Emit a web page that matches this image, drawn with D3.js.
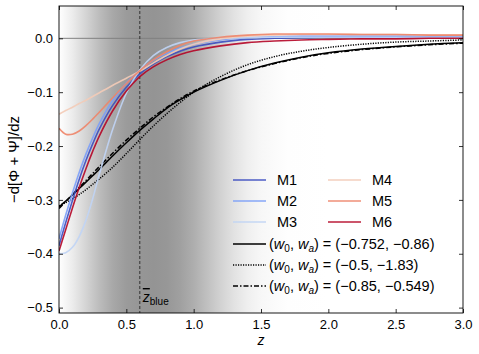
<!DOCTYPE html>
<html>
<head>
<meta charset="utf-8">
<script src="https://cdn.jsdelivr.net/npm/d3@7"></script>
<style>
  body { margin: 0; background: #fff; }
  text { font-family: "Liberation Sans", Arial, sans-serif; }
</style>
</head>
<body>
<div id="chart"></div>
<script>
// redshift grid shared by all curves
const zGrid = [0, 0.05, 0.1, 0.15, 0.2, 0.25, 0.3, 0.4, 0.5, 0.6, 0.7, 0.8, 0.9, 1.0, 1.2, 1.4, 1.6, 1.8, 2.0, 2.25, 2.5, 2.75, 3.0];

const m1 = [-0.385, -0.342, -0.301, -0.262, -0.227, -0.196, -0.168, -0.124, -0.091, -0.066, -0.048, -0.034, -0.024, -0.016, -0.007, -0.002, 0.000, 0.001, 0.002, 0.002, 0.003, 0.003, 0.003];
const m2 = [-0.372, -0.328, -0.287, -0.249, -0.215, -0.185, -0.158, -0.115, -0.083, -0.059, -0.041, -0.028, -0.018, -0.011, -0.003, 0.001, 0.003, 0.004, 0.004, 0.004, 0.004, 0.004, 0.004];
const m3 = [-0.400, -0.398, -0.388, -0.368, -0.338, -0.298, -0.252, -0.168, -0.102, -0.059, -0.032, -0.017, -0.008, -0.003, 0.000, 0.001, 0.002, 0.002, 0.002, 0.002, 0.002, 0.002, 0.002];
const m4 = [-0.141, -0.134, -0.128, -0.121, -0.115, -0.108, -0.101, -0.087, -0.074, -0.061, -0.046, -0.032, -0.020, -0.011, -0.001, 0.004, 0.006, 0.007, 0.007, 0.007, 0.007, 0.006, 0.006];
const m5 = [-0.167, -0.178, -0.178, -0.172, -0.162, -0.150, -0.137, -0.110, -0.084, -0.060, -0.040, -0.025, -0.013, -0.005, 0.002, 0.006, 0.008, 0.008, 0.008, 0.007, 0.007, 0.006, 0.006];
const m6 = [-0.395, -0.355, -0.315, -0.277, -0.242, -0.210, -0.181, -0.134, -0.098, -0.071, -0.053, -0.040, -0.030, -0.023, -0.014, -0.008, -0.005, -0.003, -0.002, -0.001, -0.001, 0.000, 0.000];

const wSolid = [-0.313, -0.302, -0.291, -0.279, -0.267, -0.255, -0.243, -0.218, -0.194, -0.171, -0.150, -0.130, -0.114, -0.100, -0.078, -0.060, -0.046, -0.035, -0.027, -0.020, -0.015, -0.011, -0.008];
const wDotted = [-0.311, -0.305, -0.298, -0.290, -0.281, -0.271, -0.261, -0.239, -0.214, -0.188, -0.163, -0.140, -0.119, -0.100, -0.071, -0.049, -0.034, -0.024, -0.017, -0.011, -0.007, -0.005, -0.003];
const wDashDot = [-0.316, -0.303, -0.290, -0.277, -0.264, -0.251, -0.238, -0.213, -0.189, -0.167, -0.146, -0.128, -0.112, -0.098, -0.077, -0.060, -0.047, -0.036, -0.028, -0.021, -0.016, -0.012, -0.009];

const modelNames = ['M1', 'M2', 'M3', 'M4', 'M5', 'M6'];
const modelColors = ['#3b4cc0', '#7b9ff9', '#c0d4f5', '#f3cbb7', '#ee8468', '#b40426'];
const wLabels = ['(−0.752, −0.86)', '(−0.5, −1.83)', '(−0.85, −0.549)'];

// grey band: n(z) of the blue sample, as grey level
const shadeZ = [0, 0.1, 0.2, 0.3, 0.4, 0.5, 0.6, 0.7, 0.8, 0.9, 1.0, 1.1, 1.2, 1.3, 1.4, 1.5, 1.7, 2.0, 3.0];
const shadeGrey = [255, 236, 212, 188, 168, 155, 150, 148, 151, 160, 174, 192, 210, 226, 239, 247, 254, 255, 255];

const zBlue = 0.6;
const xTicks = [0, 0.5, 1.0, 1.5, 2.0, 2.5, 3.0];
const yTicks = [0, -0.1, -0.2, -0.3, -0.4, -0.5];

const margin = { top: 6, right: 16, bottom: 41, left: 59 };
const width = 479 - margin.left - margin.right;
const height = 354 - margin.top - margin.bottom;

const svg = d3.select('#chart').append('svg')
    .attr('width', 479)
    .attr('height', 354);

const g = svg.append('g')
    .attr('transform', 'translate(' + margin.left + ',' + margin.top + ')');

const xScale = d3.scaleLinear().domain([0, 3]).range([0, width]);
const yScale = d3.scaleLinear().domain([-0.51, 0.06]).range([height, 0]);

// gradient background
const grad = svg.append('defs').append('linearGradient')
    .attr('id', 'shade')
    .attr('gradientUnits', 'userSpaceOnUse')
    .attr('x1', xScale(0)).attr('x2', xScale(3))
    .attr('y1', 0).attr('y2', 0);
shadeZ.forEach((z, i) => {
    grad.append('stop')
        .attr('offset', z / 3)
        .attr('stop-color', d3.rgb(shadeGrey[i], shadeGrey[i], shadeGrey[i]));
});

g.append('clipPath').attr('id', 'clip')
    .append('rect').attr('width', width).attr('height', height);

g.append('rect')
    .attr('width', width).attr('height', height)
    .attr('fill', 'url(#shade)');

const plot = g.append('g').attr('clip-path', 'url(#clip)');

// zero line
plot.append('line')
    .attr('x1', 0).attr('x2', width)
    .attr('y1', yScale(0)).attr('y2', yScale(0))
    .attr('stroke', '#808080').attr('stroke-width', 1);

// z_blue marker
plot.append('line')
    .attr('x1', xScale(zBlue)).attr('x2', xScale(zBlue))
    .attr('y1', 0).attr('y2', height)
    .attr('stroke', '#333').attr('stroke-width', 1)
    .attr('stroke-dasharray', '3,2');

const line = d3.line()
    .x((d, i) => xScale(zGrid[i]))
    .y(d => yScale(d))
    .curve(d3.curveCatmullRom);

const blackSeries = [
    { vals: wSolid, dash: null },
    { vals: wDotted, dash: '1.2,1.3' },
    { vals: wDashDot, dash: '5,2,1.5,2' }
];

blackSeries.forEach(s => {
    plot.append('path')
        .attr('d', line(s.vals))
        .attr('fill', 'none')
        .attr('stroke', '#000')
        .attr('stroke-width', 1.5)
        .attr('stroke-dasharray', s.dash);
});

[m1, m2, m3, m4, m5, m6].forEach((vals, i) => {
    plot.append('path')
        .attr('d', line(vals))
        .attr('fill', 'none')
        .attr('stroke', modelColors[i])
        .attr('stroke-width', 1.6)
        .attr('opacity', 0.9);
});

// axes, ticks inside on all sides
const xAxis = d3.axisBottom(xScale).tickValues(xTicks).tickFormat(d3.format('.1f')).tickSizeInner(-4).tickSizeOuter(0).tickPadding(7);
const yAxis = d3.axisLeft(yScale).tickValues(yTicks).tickFormat(d => d3.format('.1f')(d).replace('-', '−')).tickSizeInner(-4).tickSizeOuter(0).tickPadding(6);

g.append('g').attr('transform', 'translate(0,' + height + ')').call(xAxis);
g.append('g').call(yAxis);
g.append('g').call(d3.axisTop(xScale).tickValues(xTicks).tickFormat('').tickSizeInner(-4).tickSizeOuter(0));
g.append('g').attr('transform', 'translate(' + width + ',0)')
    .call(d3.axisRight(yScale).tickValues(yTicks).tickFormat('').tickSizeInner(-4).tickSizeOuter(0));

g.selectAll('.domain').remove();
g.selectAll('.tick line').attr('stroke', '#000').attr('stroke-width', 0.8);
g.selectAll('.tick text').attr('font-size', 13).attr('fill', '#000')
    .style('font-family', '"Liberation Sans", Arial, sans-serif');

g.append('rect')
    .attr('width', width).attr('height', height)
    .attr('fill', 'none').attr('stroke', '#000').attr('stroke-width', 0.9);

// axis labels
g.append('text')
    .attr('x', xScale(1.5)).attr('y', height + 32)
    .attr('text-anchor', 'middle')
    .attr('font-size', 14).attr('font-style', 'italic')
    .text('z');

svg.append('text')
    .attr('transform', 'translate(19,' + (margin.top + height / 2) + ') rotate(-90)')
    .attr('text-anchor', 'middle')
    .attr('font-size', 15)
    .text('−d[Φ + Ψ]/dz');

// z_blue label
const zl = g.append('text')
    .attr('x', xScale(zBlue) + 3).attr('y', height - 11)
    .attr('font-size', 14);
zl.append('tspan').text('z').attr('font-style', 'italic').attr('text-decoration', 'overline');
zl.append('tspan').text('blue').attr('font-size', 10).attr('dy', 3);

// legend
const leg = g.append('g');
const rowH = 21;
const col1 = 174, col2 = 269, legTop = 174;
modelNames.forEach((name, i) => {
    const cx = i < 3 ? col1 : col2;
    const cy = legTop + (i % 3) * rowH;
    leg.append('line')
        .attr('x1', cx).attr('x2', cx + 33)
        .attr('y1', cy).attr('y2', cy)
        .attr('stroke', modelColors[i]).attr('stroke-width', 1.6).attr('opacity', 0.9);
    leg.append('text')
        .attr('x', cx + 44).attr('y', cy + 5)
        .attr('font-size', 14.5)
        .text(name);
});
blackSeries.forEach((s, i) => {
    const cy = legTop + (3 + i) * rowH + 1;
    leg.append('line')
        .attr('x1', col1).attr('x2', col1 + 33)
        .attr('y1', cy).attr('y2', cy)
        .attr('stroke', '#000').attr('stroke-width', 1.5)
        .attr('stroke-dasharray', s.dash);
    const t = leg.append('text')
        .attr('x', col1 + 36).attr('y', cy + 5)
        .attr('font-size', 14.5)
        .attr('xml:space', 'preserve');
    t.append('tspan').text('(');
    t.append('tspan').text('w').attr('font-style', 'italic');
    t.append('tspan').text('0').attr('font-size', 10).attr('dy', 3);
    t.append('tspan').text(', ').attr('dy', -3);
    t.append('tspan').text('w').attr('font-style', 'italic');
    t.append('tspan').text('a').attr('font-size', 10).attr('font-style', 'italic').attr('dy', 3);
    t.append('tspan').text(') = ' + wLabels[i]).attr('dy', -3);
});
</script>
</body>
</html>
